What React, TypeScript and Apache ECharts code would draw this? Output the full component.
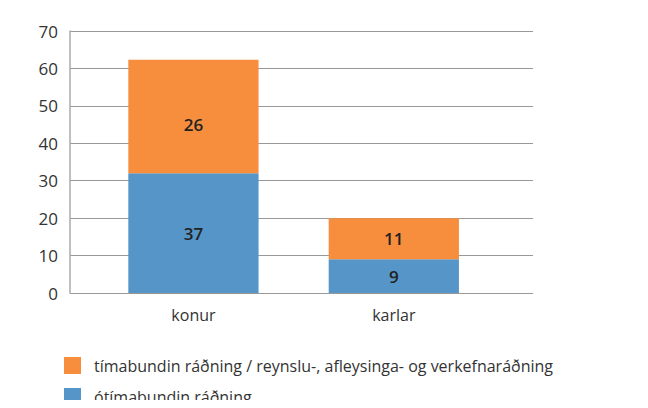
import React, { useEffect, useRef } from "react";
import * as echarts from "echarts";

const categories = ["konur", "karlar"];
const seriesNames = [
  "ótímabundin ráðning",
  "tímabundin ráðning / reynslu-, afleysinga- og verkefnaráðning",
];
// bar heights as drawn in the picture
const permanentValues = [32, 9];
const temporaryValues = [30.3, 11];
// label texts as printed on the bars
const permanentLabels = ["37", "9"];
const temporaryLabels = ["26", "11"];
const yTicks = { min: 0, max: 70, interval: 10 };

const FONT = "Open Sans";

export default function App() {
  const ref = useRef<HTMLDivElement>(null);
  useEffect(() => {
    if (!ref.current) return;
    const chart = echarts.init(ref.current, null, { renderer: "svg" });
    const labelStyle = {
      show: true,
      position: "inside",
      color: "#222",
      fontSize: 17,
      fontWeight: 600,
      fontFamily: FONT,
    };
    const legendBase = {
      left: 59,
      icon: "rect",
      itemWidth: 17,
      itemHeight: 17,
      textStyle: {
        fontSize: 16,
        color: "#333",
        fontFamily: FONT,
        padding: [0, 0, 0, 8],
      },
    };
    chart.setOption({
      animation: false,
      textStyle: { fontFamily: FONT },
      grid: [
        { left: 70, right: 115, top: 31, bottom: 115 },
        { left: 93.25, right: 154, top: 31, bottom: 115 },
      ],
      legend: [
        { ...legendBase, top: 352, data: [seriesNames[1]] },
        { ...legendBase, top: 383, data: [seriesNames[0]] },
      ],
      xAxis: [
        { type: "value", gridIndex: 0, show: false, min: 0, max: 1 },
        {
          type: "category",
          gridIndex: 1,
          data: categories,
          axisLine: { show: false },
          axisTick: { show: false },
          axisLabel: { fontSize: 16, color: "#333", margin: 14, fontFamily: FONT },
        },
      ],
      yAxis: [
        {
          type: "value",
          gridIndex: 0,
          min: yTicks.min,
          max: yTicks.max,
          interval: yTicks.interval,
          axisLine: { show: true, lineStyle: { color: "#aaa", width: 1.5 } },
          axisTick: { show: false },
          axisLabel: { fontSize: 17, color: "#333", margin: 12, fontFamily: FONT },
          splitLine: { show: true, lineStyle: { color: "#999", width: 1.2 } },
        },
        {
          type: "value",
          gridIndex: 1,
          min: yTicks.min,
          max: yTicks.max,
          interval: yTicks.interval,
          show: false,
        },
      ],
      series: [
        {
          name: seriesNames[0],
          type: "bar",
          stack: "total",
          xAxisIndex: 1,
          yAxisIndex: 1,
          barWidth: "65%",
          data: permanentValues,
          itemStyle: { color: "#5695C7" },
          label: {
            ...labelStyle,
            formatter: (p: any) => permanentLabels[p.dataIndex],
          },
        },
        {
          name: seriesNames[1],
          type: "bar",
          stack: "total",
          xAxisIndex: 1,
          yAxisIndex: 1,
          barWidth: "65%",
          data: temporaryValues.map((v, i) =>
            i === 0 ? { value: v, label: { offset: [0, 8] } } : v
          ),
          itemStyle: { color: "#F68E3E" },
          label: {
            ...labelStyle,
            formatter: (p: any) => temporaryLabels[p.dataIndex],
          },
        },
      ],
    });
    return () => chart.dispose();
  }, []);
  return <div ref={ref} style={{ width: 648, height: 408, margin: -8 }} />;
}
